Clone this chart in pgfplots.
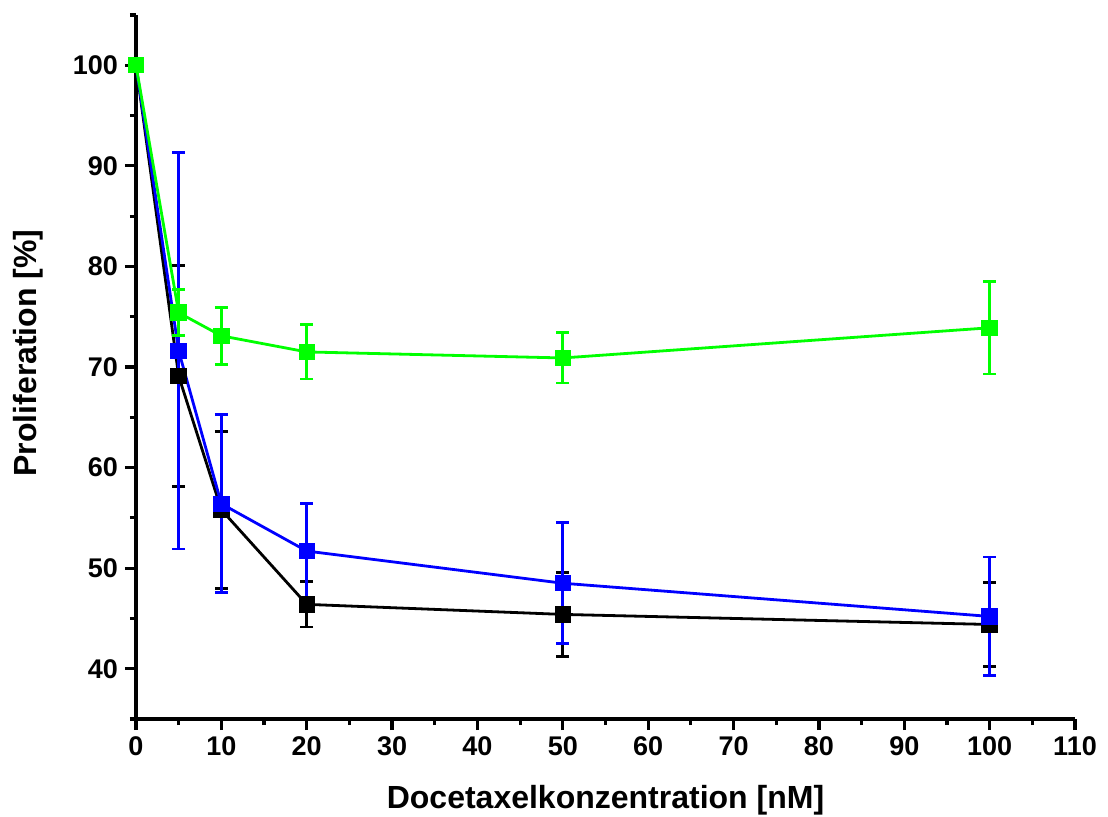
\documentclass[border=0pt]{standalone}
\usepackage{pgfplots}
\usepackage{pgfplotstable}
\pgfplotsset{compat=1.18}
\usepackage{fontspec}
\setmainfont{Liberation Sans}
\definecolor{cgreen}{RGB}{0,255,0}
\definecolor{cblue}{RGB}{0,0,255}
\pgfplotstableread{
x y e
0 100 0
5 69.1 11.0
10 55.8 7.8
20 46.4 2.25
50 45.4 4.15
100 44.4 4.15
}\blackdata
\pgfplotstableread{
x y e
0 100 0
5 71.6 19.7
10 56.4 8.85
20 51.7 4.7
50 48.5 6.0
100 45.2 5.9
}\bluedata
\pgfplotstableread{
x y e
0 100 0
5 75.4 2.3
10 73.1 2.85
20 71.5 2.7
50 70.9 2.5
100 73.9 4.6
}\greendata
\begin{document}
\begin{tikzpicture}
\path[use as bounding box] (-68pt,-48.5pt) rectangle (486pt,359.5pt);
\begin{axis}[
  scale only axis, width=469.5pt, height=352pt,
  xmin=0, xmax=110, ymin=35, ymax=105,
  axis lines*=left,
  axis line style={line width=2pt},
  tick align=outside,
  major tick length=5.5pt, minor tick length=3pt,
  tick style={line width=1.6pt, black},
  xtick={0,10,...,110}, ytick={40,50,...,100},
  minor xtick={5,15,...,105}, minor ytick={35,45,...,105},
  ticklabel style={font=\fontsize{13.5}{16}\selectfont\bfseries},
  /pgf/number format/assume math mode=true,
  xlabel={Docetaxelkonzentration [nM]},
  ylabel={Proliferation [\%]},
  label style={font=\fontsize{16}{19}\selectfont\bfseries},
  xlabel style={at={(axis description cs:0.5,-0.115)}, anchor=center},
  ylabel style={at={(axis description cs:-0.115,0.52)}, anchor=center},
  clip=false,
]
% black
\addplot[black, line width=1.4pt, draw=none, mark=none, skip coords between index={0}{1},
  error bars/.cd, y dir=both, y explicit,
  error bar style={line width=1.4pt, black},
  error mark options={rotate=90, mark size=3.2pt, line width=1.4pt, black}]
  table[x=x, y=y, y error=e]{\blackdata};
\addplot[black, line width=1.4pt, mark=square*, mark size=3.4pt, mark options={solid}]
  table[x=x, y=y]{\blackdata};
% blue
\addplot[cblue, line width=1.4pt, draw=none, mark=none, skip coords between index={0}{1},
  error bars/.cd, y dir=both, y explicit,
  error bar style={line width=1.4pt, cblue},
  error mark options={rotate=90, mark size=3.2pt, line width=1.4pt, cblue}]
  table[x=x, y=y, y error=e]{\bluedata};
\addplot[cblue, line width=1.4pt, mark=square*, mark size=3.4pt, mark options={solid}]
  table[x=x, y=y]{\bluedata};
% green
\addplot[cgreen, line width=1.4pt, draw=none, mark=none, skip coords between index={0}{1},
  error bars/.cd, y dir=both, y explicit,
  error bar style={line width=1.4pt, cgreen},
  error mark options={rotate=90, mark size=3.2pt, line width=1.4pt, cgreen}]
  table[x=x, y=y, y error=e]{\greendata};
\addplot[cgreen, line width=1.4pt, mark=square*, mark size=3.4pt, mark options={solid}]
  table[x=x, y=y]{\greendata};
\end{axis}
\end{tikzpicture}
\end{document}
